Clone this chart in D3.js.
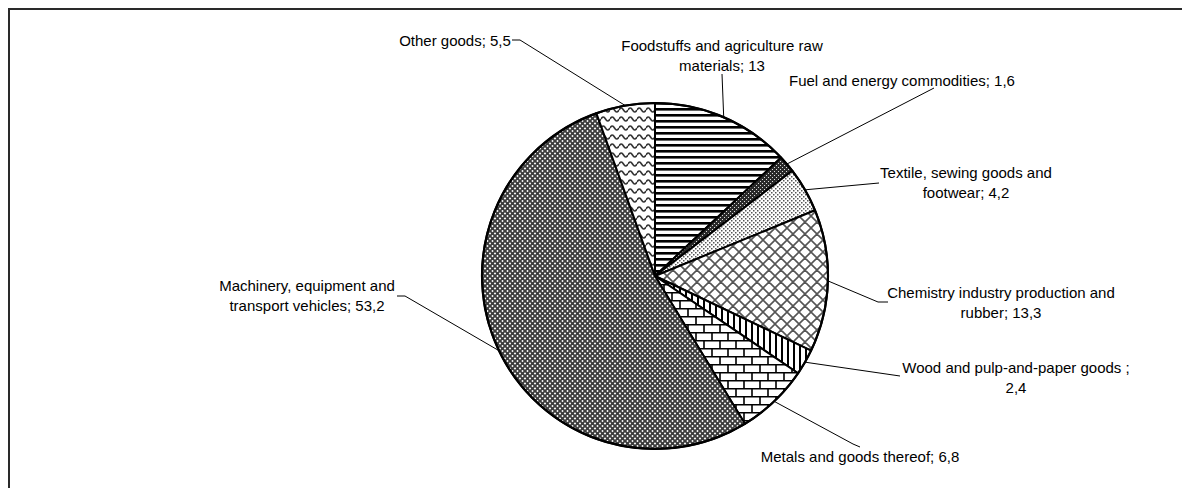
<!DOCTYPE html>
<html><head><meta charset="utf-8">
<script src="https://cdn.jsdelivr.net/npm/d3@7/dist/d3.min.js"></script>
<style>
html,body{margin:0;padding:0;background:#fff;}
text{font-family:"Liberation Sans",Arial,sans-serif;font-size:15px;fill:#000;}
</style></head>
<body>
<svg id="chart" width="1182" height="488"></svg>
<script>
// ---- data ----
const categories = [
  "Foodstuffs and agriculture raw materials",
  "Fuel and energy commodities",
  "Textile, sewing goods and footwear",
  "Chemistry industry production and rubber",
  "Wood and pulp-and-paper goods ",
  "Metals and goods thereof",
  "Machinery, equipment and transport vehicles",
  "Other goods"
];
const values = [13, 1.6, 4.2, 13.3, 2.4, 6.8, 53.2, 5.5];
const patterns = ["hstripe","darkcheck","dots","diamond","vstripe","brick","smallgrid","wave"];

// ---- layout (positions only) ----
const cx = 655, cy = 276, R = 173;
const labelLayout = [
  {x:722, y:45, anchor:"middle", wrap:215, pts:[[722,74]]},
  {x:789, y:80, anchor:"start", wrap:400, pts:[[934,88]]},
  {x:966, y:172, anchor:"middle", wrap:185, pts:[[879,183]]},
  {x:1001, y:292, anchor:"middle", wrap:230, pts:[[888,302],[878,302]]},
  {x:1016, y:367, anchor:"middle", wrap:235, pts:[[900,376]]},
  {x:860, y:456, anchor:"middle", wrap:400, pts:[[860,447],[853,444]]},
  {x:307, y:285, anchor:"middle", wrap:185, pts:[[397,296],[405,296]]},
  {x:455, y:40, anchor:"middle", wrap:300, pts:[[512,40],[520,40]]}
];
const lineH = 20.5;

const svg = d3.select("#chart");
const defs = svg.append("defs");

svg.append("rect").attr("x",9).attr("y",9).attr("width",1200).attr("height",520)
  .attr("fill","none").attr("stroke","#2a2a2a").attr("stroke-width",2);

function pat(id,w,h,bg){
  const p = defs.append("pattern").attr("id",id).attr("patternUnits","userSpaceOnUse")
    .attr("width",w).attr("height",h);
  p.append("rect").attr("width",w).attr("height",h).attr("fill",bg);
  return p;
}
let p;
p = pat("hstripe",6,6,"#fff");
p.append("rect").attr("y",0).attr("width",6).attr("height",2).attr("fill","#000");
p.append("rect").attr("y",2).attr("width",6).attr("height",1).attr("fill","#666");

p = pat("darkcheck",4,4,"#2a2a2a");
p.append("rect").attr("x",1).attr("y",1).attr("width",1).attr("height",1).attr("fill","#ddd");
p.append("rect").attr("x",3).attr("y",3).attr("width",1).attr("height",1).attr("fill","#ddd");

p = pat("dots",4,4,"#fff");
p.append("rect").attr("x",0).attr("y",0).attr("width",1.5).attr("height",1.5).attr("fill","#555");
p.append("rect").attr("x",2).attr("y",2).attr("width",1.5).attr("height",1.5).attr("fill","#555");

p = pat("diamond",12,12,"#fff");
p.append("path").attr("d","M0,0L12,12M12,0L0,12M-6,6L0,12M6,-6L18,6M6,18L18,6M-6,6L6,-6")
  .attr("stroke","#555").attr("stroke-width",1.6).attr("fill","none");

p = pat("vstripe",6,6,"#fff");
p.append("rect").attr("x",0).attr("width",2).attr("height",6).attr("fill","#000");

p = pat("brick",16,16,"#fff");
p.append("path").attr("d","M0,0.75H16M0,8.75H16M1,0V8.75M9,8.75V16")
  .attr("stroke","#000").attr("stroke-width",1.6).attr("fill","none");

p = pat("smallgrid",5,5,"#fff");
p.append("path").attr("d","M0,0L5,5M5,0L0,5")
  .attr("stroke","#3c3c3c").attr("stroke-width",1.9).attr("fill","none");

p = pat("wave",9,9,"#fff");
p.append("path").attr("d","M0,5 Q2.25,1 4.5,5 T9,5")
  .attr("stroke","#333").attr("stroke-width",1.6).attr("fill","none");

const pie = d3.pie().sort(null).value(d=>d).startAngle(0).endAngle(2*Math.PI);
const arcs = pie(values);
const arc = d3.arc().innerRadius(0).outerRadius(R);
const g = svg.append("g").attr("transform",`translate(${cx},${cy})`);
g.selectAll("path.slice").data(arcs).join("path").attr("class","slice")
  .attr("d",arc)
  .attr("fill",(d,i)=>`url(#${patterns[i]})`)
  .attr("stroke","#000").attr("stroke-width",2).attr("stroke-linejoin","round");
g.append("circle").attr("r",R).attr("fill","none").attr("stroke","#000").attr("stroke-width",2.2);

const fmt = v => String(v).replace(".", ",");
const measurer = svg.append("text").attr("visibility","hidden");
function wrapText(str, maxW){
  const words = str.split(" ");
  const lines = [];
  let cur = "";
  words.forEach(w=>{
    const test = cur ? cur + " " + w : w;
    measurer.text(test);
    if (cur && measurer.node().getComputedTextLength() > maxW){ lines.push(cur); cur = w; }
    else cur = test;
  });
  if (cur) lines.push(cur);
  return lines;
}

const leaderG = svg.append("g");
const labelG = svg.append("g");
arcs.forEach((a,i)=>{
  const L = labelLayout[i];
  const str = categories[i] + "; " + fmt(values[i]);
  const lines = wrapText(str, L.wrap);
  const t = labelG.append("text").attr("text-anchor",L.anchor);
  lines.forEach((ln,k)=>{
    t.append("tspan").attr("x",L.x).attr("y",L.y + k*lineH).attr("dominant-baseline","central").text(ln);
  });
  const mid = (a.startAngle + a.endAngle)/2;
  const edge = [cx + R*Math.sin(mid), cy - R*Math.cos(mid)];
  const pts = L.pts.concat([edge]);
  leaderG.append("path").attr("d", d3.line()(pts))
    .attr("fill","none").attr("stroke","#000").attr("stroke-width",1);
});
measurer.remove();
</script>
</body></html>
